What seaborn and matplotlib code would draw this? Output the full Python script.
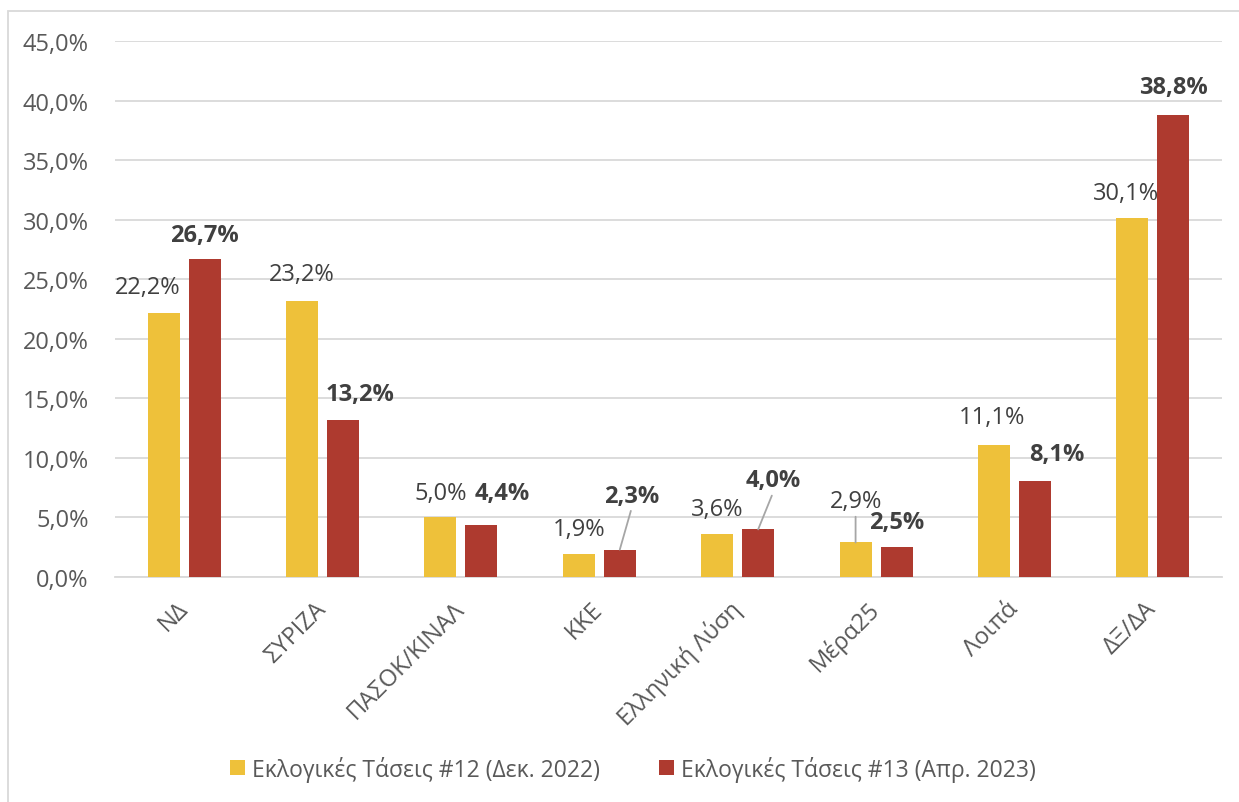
import matplotlib
matplotlib.use("Agg")
import matplotlib.pyplot as plt
import seaborn as sns
import pandas as pd
from matplotlib.patches import Rectangle

categories = ["ΝΔ", "ΣΥΡΙΖΑ", "ΠΑΣΟΚ/ΚΙΝΑΛ", "ΚΚΕ", "Ελληνική Λύση", "Μέρα25", "Λοιπά", "ΔΞ/ΔΑ"]
series_names = ["Εκλογικές Τάσεις #12 (Δεκ. 2022)", "Εκλογικές Τάσεις #13 (Απρ. 2023)"]
values_dec22 = [22.2, 23.2, 5.0, 1.9, 3.6, 2.9, 11.1, 30.1]
values_apr23 = [26.7, 13.2, 4.4, 2.3, 4.0, 2.5, 8.1, 38.8]
y_ticks = [0, 5, 10, 15, 20, 25, 30, 35, 40, 45]

colors = ["#EEC13A", "#AE3A2F"]

# label offsets (pixels) from top of bar: (dx, dy, leader line)
offs_dec22 = [(-16, 26, False), (0, 27, False), (0, 24, False), (0, 25, False),
              (0, 25, False), (0, 41, True), (-2, 28, False), (-6, 25, False)]
offs_apr23 = [(0, 24, False), (17, 26, False), (21, 32, False), (12, 54, True),
              (15, 49, True), (0, 25, False), (22, 27, False), (0, 28, False)]

df = pd.DataFrame({
    "cat": categories * 2,
    "series": [series_names[0]] * len(categories) + [series_names[1]] * len(categories),
    "val": values_dec22 + values_apr23,
})

sns.set_theme(style="white")
plt.rcParams["font.family"] = ["Open Sans", "Noto Sans", "DejaVu Sans"]

fig = plt.figure(figsize=(12.39, 8.03), dpi=100)
ax = fig.add_axes([115 / 1239, 1 - 578 / 803, (1222 - 115) / 1239, (578 - 42) / 803])

sns.barplot(data=df, x="cat", y="val", hue="series", palette=colors,
            width=0.592, gap=0.22, ax=ax, legend=True, saturation=1,
            edgecolor="none", linewidth=0, zorder=3)

ax.set_ylim(0, 45)
ax.set_yticks(y_ticks)
ax.set_yticklabels([f"{t:.1f}".replace(".", ",") + "%" for t in y_ticks],
                   fontsize=17, color="#595959")
ax.set_xlabel("")
ax.set_ylabel("")
ax.grid(axis="y", color="#D9D9D9", linewidth=1.3, zorder=0)
ax.set_axisbelow(True)
for s in ["top", "right", "left"]:
    ax.spines[s].set_visible(False)
ax.spines["bottom"].set_color("#D9D9D9")
ax.spines["bottom"].set_linewidth(1.3)
ax.tick_params(axis="y", length=0, pad=19)
ax.tick_params(axis="x", length=0, pad=20)
ax.set_xlim(-0.5, len(categories) - 0.5)
for lab in ax.get_xticklabels():
    lab.set_rotation(45)
    lab.set_ha("right")
    lab.set_va("center")
    lab.set_rotation_mode("anchor")
    lab.set_fontsize(17)
    lab.set_color("#595959")

# data labels
for ci, (cont, vals, offs) in enumerate(zip(ax.containers, [values_dec22, values_apr23],
                                             [offs_dec22, offs_apr23])):
    for bar, v, (dx, dy, leader) in zip(cont.patches, vals, offs):
        x = bar.get_x() + bar.get_width() / 2
        y = bar.get_height()
        txt = f"{v:.1f}".replace(".", ",") + "%"
        kw = dict(xy=(x, y), xytext=(dx, dy), textcoords="offset pixels",
                  ha="center", va="center", fontsize=17, color="#404040",
                  fontweight="bold" if ci == 1 else "normal", zorder=5)
        if leader:
            kw["arrowprops"] = dict(arrowstyle="-", color="#A6A6A6", lw=1.3,
                                    shrinkA=0, shrinkB=0, relpos=(0.5, 0.0))
        ax.annotate(txt, **kw)

# legend
leg = ax.legend(loc="center", bbox_to_anchor=(0.468, -0.358), ncol=2,
                frameon=False, fontsize=16.5, handlelength=0.65, handleheight=0.65,
                handletextpad=0.3, columnspacing=2.6)
for t in leg.get_texts():
    t.set_color("#595959")

# chart border
fig.patches.append(Rectangle((8 / 1239, -0.1), 1.2, 1 - 12 / 803 + 0.1,
                             transform=fig.transFigure, fill=False,
                             edgecolor="#D9D9D9", linewidth=1.3))

fig.savefig("out.png", dpi=100, facecolor="white")
